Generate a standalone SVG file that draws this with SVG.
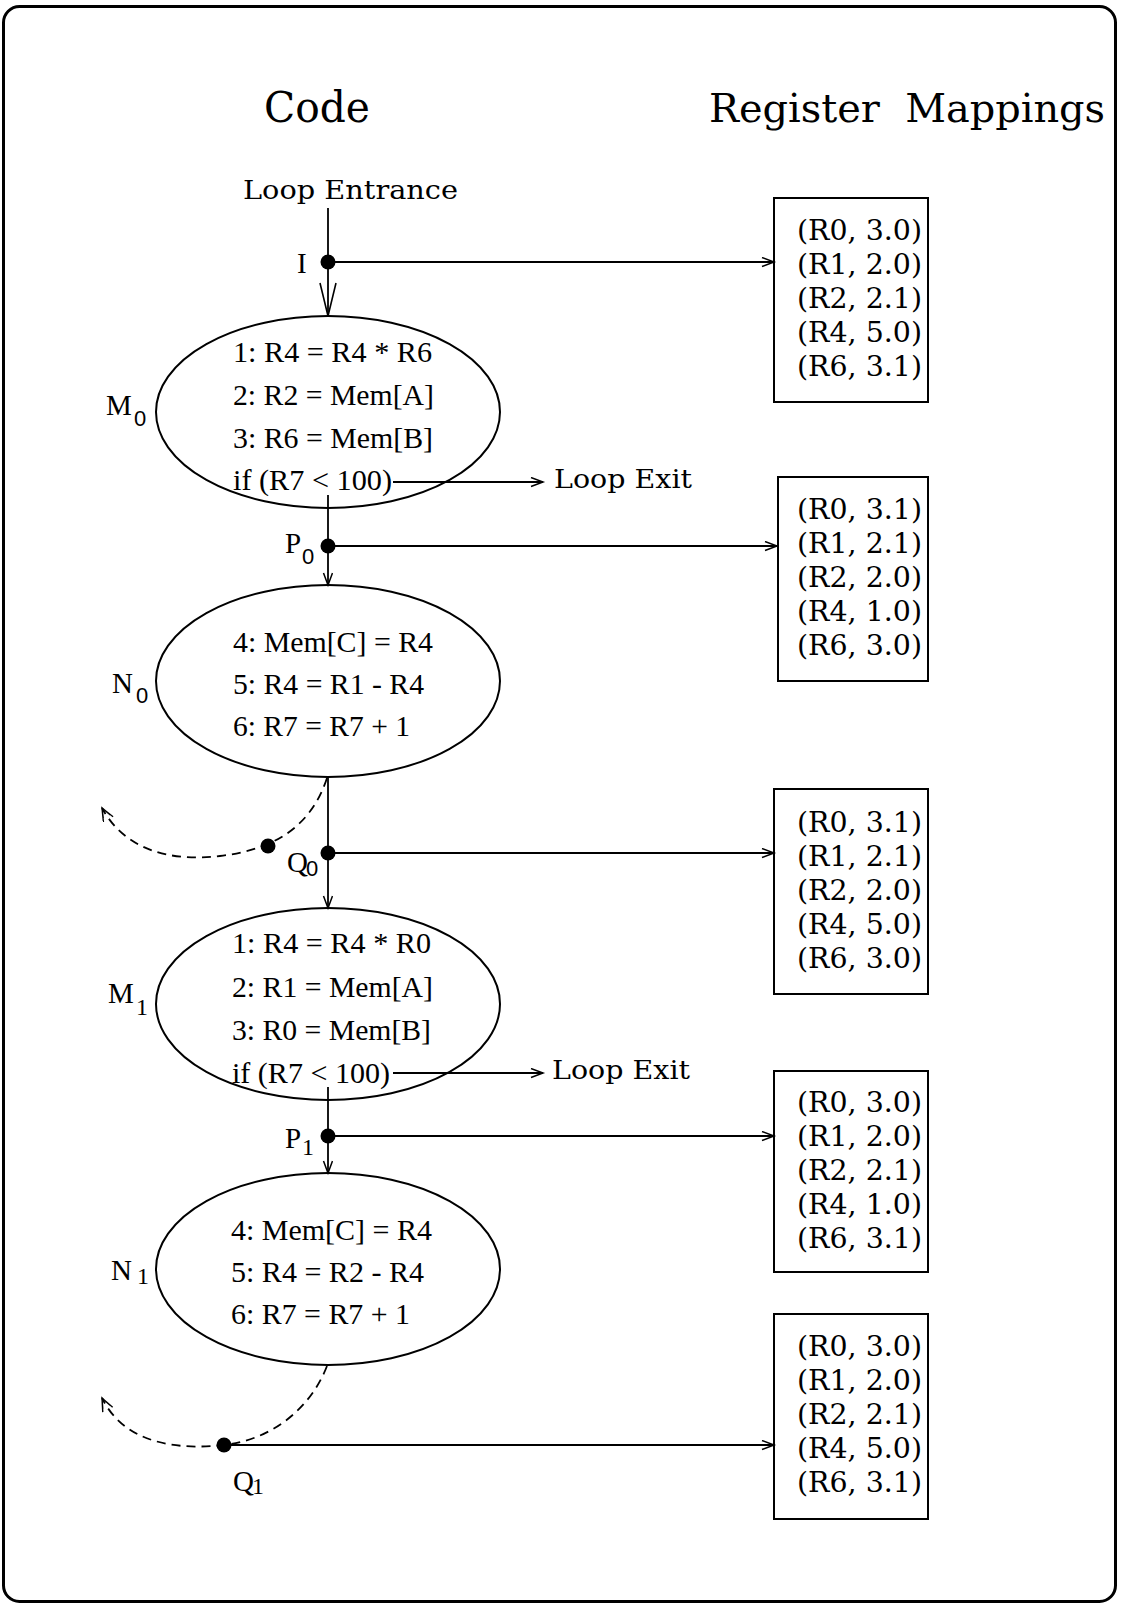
<svg xmlns="http://www.w3.org/2000/svg" width="1122" height="1605" viewBox="0 0 1122 1605">
<defs>
<marker id="arr" markerUnits="userSpaceOnUse" markerWidth="16" markerHeight="12" refX="13" refY="5" orient="auto" viewBox="0 0 16 12"><path d="M1,0.5 L13,5 L1,9.5" fill="none" stroke="#000" stroke-width="1.5"/></marker>
<marker id="arrBig" markerUnits="userSpaceOnUse" markerWidth="36" markerHeight="20" refX="34" refY="9" orient="auto" viewBox="0 0 36 20"><path d="M1,1 L34,9 L1,17" fill="none" stroke="#000" stroke-width="1.6"/></marker>
<marker id="arrDash" markerUnits="userSpaceOnUse" markerWidth="16" markerHeight="14" refX="14" refY="6" orient="auto" viewBox="0 0 16 14"><path d="M1,0.5 L14,6 L1,11.5 M4,2 L14,6 L4,10" fill="none" stroke="#000" stroke-width="1.4"/></marker>
</defs>
<style>
.frame{fill:none;stroke:#000;stroke-width:3}
.ell{fill:none;stroke:#000;stroke-width:2}
.box{fill:none;stroke:#000;stroke-width:2}
.ln{fill:none;stroke:#000;stroke-width:1.8}
.dash{fill:none;stroke:#000;stroke-width:1.8;stroke-dasharray:9 6}
.dot{fill:#000}
.title{font-family:"DejaVu Serif",serif;font-size:42px}
.title2{font-family:"DejaVu Serif",serif;font-size:40px}
.cs{font-family:"DejaVu Serif",serif;font-size:26px}
.map{font-family:"DejaVu Serif",serif;font-size:27px}
.code{font-family:"Liberation Serif",serif;font-size:29px}
.lab{font-family:"Liberation Serif",serif;font-size:29px}
.sub{font-family:"Liberation Sans",sans-serif;font-size:22px}
.sub1{font-family:"Liberation Serif",serif;font-size:24px}
</style>
<rect class="frame" x="3.5" y="6.5" width="1112" height="1595" rx="16"/>

<g id="titles">
<text class="title" x="264" y="122" textLength="106" lengthAdjust="spacingAndGlyphs">Code</text>
<text class="title2" x="709" y="122" textLength="396" lengthAdjust="spacingAndGlyphs" xml:space="preserve">Register  Mappings</text>
<text class="cs" x="243" y="199" textLength="215" lengthAdjust="spacingAndGlyphs">Loop Entrance</text>
<text class="cs" x="554" y="488" textLength="138" lengthAdjust="spacingAndGlyphs">Loop Exit</text>
<text class="cs" x="552" y="1079" textLength="138" lengthAdjust="spacingAndGlyphs">Loop Exit</text>
</g>

<g id="connectors">
<line class="ln" x1="328" y1="208" x2="328" y2="316" marker-end="url(#arrBig)"/>
<line class="ln" x1="328" y1="262" x2="774" y2="262" marker-end="url(#arr)"/>
<line class="ln" x1="393" y1="482" x2="543" y2="482" marker-end="url(#arr)"/>
<line class="ln" x1="328" y1="495" x2="328" y2="585" marker-end="url(#arr)"/>
<line class="ln" x1="328" y1="546" x2="777" y2="546" marker-end="url(#arr)"/>
<line class="ln" x1="328" y1="778" x2="328" y2="908" marker-end="url(#arr)"/>
<line class="ln" x1="328" y1="853" x2="774" y2="853" marker-end="url(#arr)"/>
<path class="dash" d="M327,778 C310,830 270,850 220,856 C170,862 125,850 102,808" marker-end="url(#arrDash)"/>
<line class="ln" x1="393" y1="1073" x2="543" y2="1073" marker-end="url(#arr)"/>
<line class="ln" x1="328" y1="1087" x2="328" y2="1173" marker-end="url(#arr)"/>
<line class="ln" x1="328" y1="1136" x2="774" y2="1136" marker-end="url(#arr)"/>
<path class="dash" d="M327,1366 C310,1410 270,1440 224,1445 C180,1450 125,1445 102,1398" marker-end="url(#arrDash)"/>
<line class="ln" x1="224" y1="1445" x2="774" y2="1445" marker-end="url(#arr)"/>
</g>

<g id="point-I">
<circle class="dot" cx="328" cy="262" r="7.5"/>
<text class="lab" x="297" y="273">I</text>
</g>
<g id="point-P0">
<circle class="dot" cx="328" cy="546" r="7.5"/>
<text class="lab" x="285" y="553">P</text><text class="sub" x="302" y="564">0</text>
</g>
<g id="point-Q0">
<circle class="dot" cx="328" cy="853" r="7.5"/>
<circle class="dot" cx="268" cy="846" r="7.5"/>
<text class="lab" x="287" y="872">Q</text><text class="sub" x="306" y="876">0</text>
</g>
<g id="point-P1">
<circle class="dot" cx="328" cy="1136" r="7.5"/>
<text class="lab" x="285" y="1148">P</text><text class="sub1" x="302" y="1155">1</text>
</g>
<g id="point-Q1">
<circle class="dot" cx="224" cy="1445" r="7.5"/>
<text class="lab" x="233" y="1491">Q</text><text class="sub1" x="252" y="1494">1</text>
</g>

<g id="node-M0">
<ellipse class="ell" cx="328" cy="412" rx="172" ry="96"/>
<text class="code" x="233" y="362" textLength="199" lengthAdjust="spacingAndGlyphs">1: R4 = R4 * R6</text>
<text class="code" x="233" y="405" textLength="201" lengthAdjust="spacingAndGlyphs">2: R2 = Mem[A]</text>
<text class="code" x="233" y="448" textLength="200" lengthAdjust="spacingAndGlyphs">3: R6 = Mem[B]</text>
<text class="code" x="233" y="490" textLength="159" lengthAdjust="spacingAndGlyphs">if (R7 &lt; 100)</text>
<text class="lab" x="106" y="415">M</text><text class="sub" x="134" y="426">0</text>
</g>

<g id="node-N0">
<ellipse class="ell" cx="328" cy="681" rx="172" ry="96"/>
<text class="code" x="233" y="652" textLength="200" lengthAdjust="spacingAndGlyphs">4: Mem[C] = R4</text>
<text class="code" x="233" y="694" textLength="191" lengthAdjust="spacingAndGlyphs">5: R4 = R1 - R4</text>
<text class="code" x="233" y="736" textLength="177" lengthAdjust="spacingAndGlyphs">6: R7 = R7 + 1</text>
<text class="lab" x="112" y="693">N</text><text class="sub" x="136" y="703">0</text>
</g>

<g id="node-M1">
<ellipse class="ell" cx="328" cy="1004" rx="172" ry="96"/>
<text class="code" x="232" y="953" textLength="199" lengthAdjust="spacingAndGlyphs">1: R4 = R4 * R0</text>
<text class="code" x="232" y="997" textLength="201" lengthAdjust="spacingAndGlyphs">2: R1 = Mem[A]</text>
<text class="code" x="232" y="1040" textLength="199" lengthAdjust="spacingAndGlyphs">3: R0 = Mem[B]</text>
<text class="code" x="232" y="1083" textLength="158" lengthAdjust="spacingAndGlyphs">if (R7 &lt; 100)</text>
<text class="lab" x="108" y="1003">M</text><text class="sub1" x="136" y="1015">1</text>
</g>

<g id="node-N1">
<ellipse class="ell" cx="328" cy="1269" rx="172" ry="96"/>
<text class="code" x="231" y="1240" textLength="201" lengthAdjust="spacingAndGlyphs">4: Mem[C] = R4</text>
<text class="code" x="231" y="1282" textLength="193" lengthAdjust="spacingAndGlyphs">5: R4 = R2 - R4</text>
<text class="code" x="231" y="1324" textLength="179" lengthAdjust="spacingAndGlyphs">6: R7 = R7 + 1</text>
<text class="lab" x="111" y="1280">N</text><text class="sub1" x="137" y="1284">1</text>
</g>

<g id="map-I">
<rect class="box" x="774" y="198" width="154" height="204"/>
<text class="map" x="797" y="240" textLength="125" lengthAdjust="spacingAndGlyphs">(R0, 3.0)</text>
<text class="map" x="797" y="274" textLength="125" lengthAdjust="spacingAndGlyphs">(R1, 2.0)</text>
<text class="map" x="797" y="308" textLength="125" lengthAdjust="spacingAndGlyphs">(R2, 2.1)</text>
<text class="map" x="797" y="342" textLength="125" lengthAdjust="spacingAndGlyphs">(R4, 5.0)</text>
<text class="map" x="797" y="376" textLength="125" lengthAdjust="spacingAndGlyphs">(R6, 3.1)</text>
</g>
<g id="map-P0">
<rect class="box" x="778" y="477" width="150" height="204"/>
<text class="map" x="797" y="519" textLength="125" lengthAdjust="spacingAndGlyphs">(R0, 3.1)</text>
<text class="map" x="797" y="553" textLength="125" lengthAdjust="spacingAndGlyphs">(R1, 2.1)</text>
<text class="map" x="797" y="587" textLength="125" lengthAdjust="spacingAndGlyphs">(R2, 2.0)</text>
<text class="map" x="797" y="621" textLength="125" lengthAdjust="spacingAndGlyphs">(R4, 1.0)</text>
<text class="map" x="797" y="655" textLength="125" lengthAdjust="spacingAndGlyphs">(R6, 3.0)</text>
</g>
<g id="map-Q0">
<rect class="box" x="774" y="789" width="154" height="205"/>
<text class="map" x="797" y="832" textLength="125" lengthAdjust="spacingAndGlyphs">(R0, 3.1)</text>
<text class="map" x="797" y="866" textLength="125" lengthAdjust="spacingAndGlyphs">(R1, 2.1)</text>
<text class="map" x="797" y="900" textLength="125" lengthAdjust="spacingAndGlyphs">(R2, 2.0)</text>
<text class="map" x="797" y="934" textLength="125" lengthAdjust="spacingAndGlyphs">(R4, 5.0)</text>
<text class="map" x="797" y="968" textLength="125" lengthAdjust="spacingAndGlyphs">(R6, 3.0)</text>
</g>
<g id="map-P1">
<rect class="box" x="774" y="1071" width="154" height="201"/>
<text class="map" x="797" y="1112" textLength="125" lengthAdjust="spacingAndGlyphs">(R0, 3.0)</text>
<text class="map" x="797" y="1146" textLength="125" lengthAdjust="spacingAndGlyphs">(R1, 2.0)</text>
<text class="map" x="797" y="1180" textLength="125" lengthAdjust="spacingAndGlyphs">(R2, 2.1)</text>
<text class="map" x="797" y="1214" textLength="125" lengthAdjust="spacingAndGlyphs">(R4, 1.0)</text>
<text class="map" x="797" y="1248" textLength="125" lengthAdjust="spacingAndGlyphs">(R6, 3.1)</text>
</g>
<g id="map-Q1">
<rect class="box" x="774" y="1314" width="154" height="205"/>
<text class="map" x="797" y="1356" textLength="125" lengthAdjust="spacingAndGlyphs">(R0, 3.0)</text>
<text class="map" x="797" y="1390" textLength="125" lengthAdjust="spacingAndGlyphs">(R1, 2.0)</text>
<text class="map" x="797" y="1424" textLength="125" lengthAdjust="spacingAndGlyphs">(R2, 2.1)</text>
<text class="map" x="797" y="1458" textLength="125" lengthAdjust="spacingAndGlyphs">(R4, 5.0)</text>
<text class="map" x="797" y="1492" textLength="125" lengthAdjust="spacingAndGlyphs">(R6, 3.1)</text>
</g>
</svg>
